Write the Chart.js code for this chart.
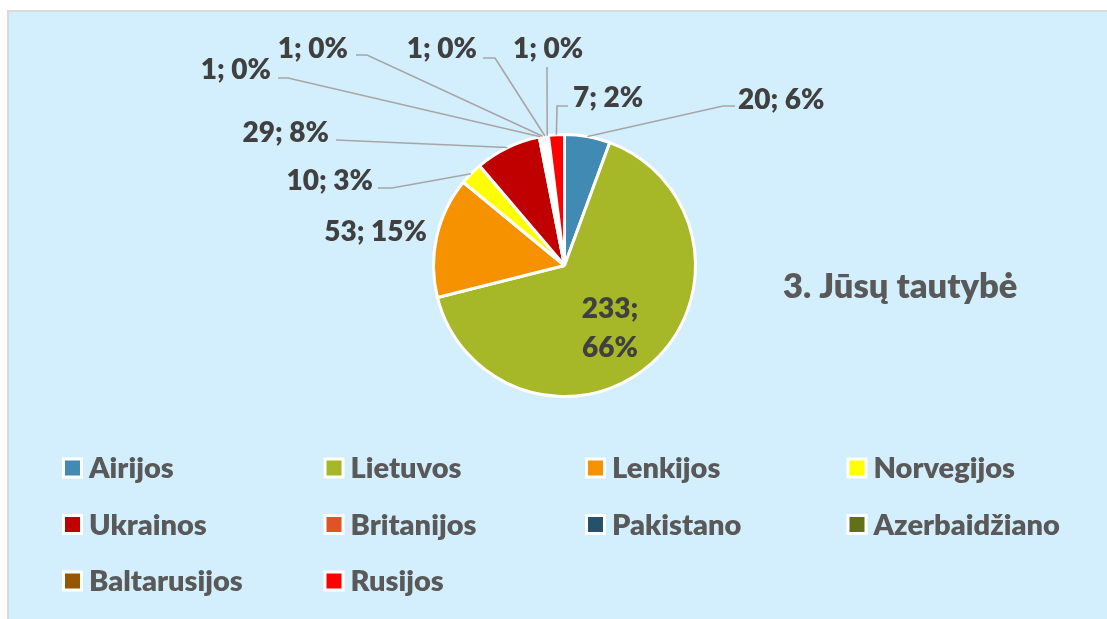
<!DOCTYPE html>
<html>
<head>
<meta charset="utf-8">
<script src="https://cdn.jsdelivr.net/npm/chart.js@4.4.1/dist/chart.umd.min.js"></script>
<style>
  html, body { margin: 0; padding: 0; background: #ffffff; }
  #wrap { width: 1107px; height: 619px; position: relative; }
</style>
</head>
<body>
<div id="wrap"><canvas id="c" width="1107" height="619"></canvas></div>
<script>
// ---- data ----
const categories = ['Airijos', 'Lietuvos', 'Lenkijos', 'Norvegijos', 'Ukrainos', 'Britanijos', 'Pakistano', 'Azerbaidžiano', 'Baltarusijos', 'Rusijos'];
const counts = [20, 233, 53, 10, 29, 1, 1, 1, 1, 7];
const percentLabels = ['6%', '66%', '15%', '3%', '8%', '0%', '0%', '0%', '0%', '2%'];
const colors = ['#418AB3', '#A6B727', '#F69200', '#FFFF00', '#C00000', '#DF5327', '#26516B', '#627017', '#955600', '#FF0000'];
const titleText = '3. Jūsų tautybė';

// ---- label layout (annotation placement, not data) ----
// side: 'l' text right-aligned at x, 'r' text left-aligned at x, 'in' centered two lines
const labelLayout = [
  { side: 'r', x: 738, cy: 99, leader: [[723, 106], [735, 106]] },
  { side: 'in', x: 610, cy: 308, cy2: 347 },
  { side: 'l', x: 427, cy: 231, leader: null },
  { side: 'l', x: 373, cy: 180, leader: [[392, 188], [378, 188]] },
  { side: 'l', x: 329, cy: 132, leader: [[336, 140]] },
  { side: 'l', x: 271, cy: 69, leader: [[288, 78], [278, 78]] },
  { side: 'l', x: 348, cy: 48, leader: [[367, 55], [356, 55]] },
  { side: 'l', x: 477, cy: 48, leader: [[495, 58], [483, 58]] },
  { side: 'r', x: 513, cy: 48, leader: [[547, 67]] },
  { side: 'r', x: 573, cy: 97, leader: [[557, 106], [568, 106]] }
];

const FONT = 'Lato, "Open Sans", "DejaVu Sans", sans-serif';

const backgroundPlugin = {
  id: 'panelBg',
  beforeDraw(chart) {
    const ctx = chart.ctx;
    ctx.save();
    ctx.fillStyle = '#ffffff';
    ctx.fillRect(0, 0, chart.width, chart.height);
    ctx.fillStyle = '#D3EFFD';
    ctx.fillRect(8, 11, chart.width, chart.height);
    ctx.strokeStyle = '#D9D9D9';
    ctx.lineWidth = 2;
    ctx.beginPath();
    ctx.moveTo(8, chart.height + 2);
    ctx.lineTo(8, 11);
    ctx.lineTo(chart.width + 2, 11);
    ctx.stroke();
    ctx.restore();
  }
};

const labelPlugin = {
  id: 'sliceLabels',
  afterDatasetsDraw(chart) {
    const ctx = chart.ctx;
    const meta = chart.getDatasetMeta(0);
    ctx.save();
    // leader lines
    ctx.strokeStyle = '#A6A6A6';
    ctx.lineWidth = 1.6;
    meta.data.forEach((arc, i) => {
      const lay = labelLayout[i];
      if (!lay || !lay.leader) return;
      const mid = (arc.startAngle + arc.endAngle) / 2;
      const r = arc.outerRadius;
      const px = arc.x + Math.cos(mid) * r;
      const py = arc.y + Math.sin(mid) * r;
      ctx.beginPath();
      ctx.moveTo(px, py);
      lay.leader.forEach(p => ctx.lineTo(p[0], p[1]));
      ctx.stroke();
    });
    // texts
    ctx.fillStyle = '#404040';
    ctx.font = '800 28px ' + FONT;
    ctx.textBaseline = 'alphabetic';
    const capHalf = 10;
    meta.data.forEach((arc, i) => {
      const lay = labelLayout[i];
      if (!lay) return;
      const txt = counts[i] + '; ' + percentLabels[i];
      if (lay.side === 'in') {
        ctx.textAlign = 'center';
        ctx.fillText(counts[i] + ';', lay.x, lay.cy + capHalf);
        ctx.fillText(percentLabels[i], lay.x, lay.cy2 + capHalf);
      } else {
        ctx.textAlign = lay.side === 'l' ? 'right' : 'left';
        ctx.fillText(txt, lay.x, lay.cy + capHalf);
      }
    });
    ctx.restore();
  },
  afterDraw(chart) {
    const ctx = chart.ctx;
    ctx.save();
    // title
    ctx.fillStyle = '#595959';
    ctx.font = '800 34.5px ' + FONT;
    ctx.textAlign = 'left';
    ctx.textBaseline = 'alphabetic';
    ctx.fillText(titleText, 783, 298);
    // legend grid
    ctx.font = '800 29px ' + FONT;
    const colX0 = 62, colStep = 261.5;
    const rowY0 = 468, rowStep = 56.5;
    categories.forEach((name, i) => {
      const col = i % 4, row = Math.floor(i / 4);
      const bx = colX0 + col * colStep;
      const cy = rowY0 + row * rowStep;
      ctx.fillStyle = '#ffffff';
      ctx.fillRect(bx, cy - 10.5, 21, 21);
      ctx.fillStyle = colors[i];
      ctx.fillRect(bx + 3, cy - 7.5, 15, 15);
      ctx.fillStyle = '#595959';
      ctx.fillText(name, bx + 27, cy + 10);
    });
    ctx.restore();
  }
};

new Chart(document.getElementById('c'), {
  type: 'pie',
  data: {
    labels: categories,
    datasets: [{
      data: counts,
      backgroundColor: colors,
      borderColor: '#ffffff',
      borderWidth: 3,
      hoverOffset: 0,
      offset: 0
    }]
  },
  options: {
    responsive: false,
    animation: false,
    events: [],
    layout: { padding: { left: 432, right: 410, top: 133, bottom: 221 } },
    plugins: {
      legend: { display: false },
      tooltip: { enabled: false },
      title: { display: false }
    }
  },
  plugins: [backgroundPlugin, labelPlugin]
});
</script>
</body>
</html>
